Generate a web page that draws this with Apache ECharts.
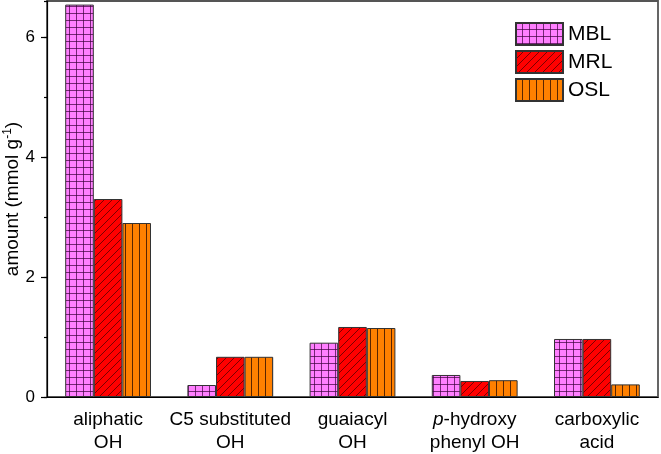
<!DOCTYPE html>
<html>
<head>
<meta charset="utf-8">
<script src="https://cdn.jsdelivr.net/npm/echarts@6/dist/echarts.min.js"></script>
<style>
html,body{margin:0;padding:0;background:#fff;}
#chart{width:661px;height:454px;}
</style>
</head>
<body>
<div id="chart"></div>
<script>
var categories = ['aliphatic\nOH', 'C5 substituted\nOH', 'guaiacyl\nOH', 'p-hydroxy\nphenyl OH', 'carboxylic\nacid'];
var seriesNames = ['MBL', 'MRL', 'OSL'];
var mblValues = [6.54, 0.20, 0.905, 0.367, 0.967];
var mrlValues = [3.30, 0.67, 1.167, 0.267, 0.967];
var oslValues = [2.90, 0.67, 1.15, 0.28, 0.21];
var yTicks = [0, 2, 4, 6];

function makeTile(w, h, bg, draw) {
  var c = document.createElement('canvas');
  c.width = w; c.height = h;
  var ctx = c.getContext('2d');
  ctx.fillStyle = bg;
  ctx.fillRect(0, 0, w, h);
  draw(ctx, w, h);
  return c;
}
var gridTile = makeTile(7, 7, '#ff7fff', function (ctx, w, h) {
  ctx.fillStyle = 'rgba(60,0,60,0.7)';
  ctx.fillRect(w - 1, 0, 1, h);
  ctx.fillRect(0, h - 1, w, 1);
});
var diagTile = makeTile(8, 8, '#ff0000', function (ctx, w, h) {
  ctx.strokeStyle = 'rgba(60,0,0,0.85)';
  ctx.lineWidth = 0.8;
  ctx.beginPath();
  ctx.moveTo(-1, h + 1); ctx.lineTo(w + 1, -1);
  ctx.moveTo(-1, 1); ctx.lineTo(1, -1);
  ctx.moveTo(w - 1, h + 1); ctx.lineTo(w + 1, h - 1);
  ctx.stroke();
});
var vertTile = makeTile(7, 7, '#ff8000', function (ctx, w, h) {
  ctx.fillStyle = 'rgba(60,20,0,0.85)';
  ctx.fillRect(w - 1, 0, 1, h);
});
var patterns = [gridTile, diagTile, vertTile];
var allValues = [mblValues, mrlValues, oslValues];
var FONT = 'Liberation Sans, Arial, sans-serif';

var chart = echarts.init(document.getElementById('chart'), null, {renderer: 'canvas'});
var option = {
  animation: false,
  textStyle: {fontFamily: FONT, color: '#000'},
  grid: {left: 47, right: 3, top: 1, bottom: 57, containLabel: false, outerBoundsMode: 'none',
    show: true, borderColor: '#555', borderWidth: 1.8},
  legend: {
    data: seriesNames,
    orient: 'vertical',
    left: 515,
    top: 22,
    padding: 0,
    itemWidth: 47,
    itemHeight: 22,
    itemGap: 4,
    textStyle: {fontSize: 21, color: '#000', fontFamily: FONT},
    icon: 'rect'
  },
  xAxis: {
    type: 'category',
    data: categories,
    axisLine: {lineStyle: {color: '#000', width: 1.2}},
    axisTick: {alignWithLabel: true, length: 6, lineStyle: {color: '#000', width: 1.2}},
    axisLabel: {
      interval: 0,
      color: '#000', fontSize: 19, lineHeight: 23, margin: 11,
      fontFamily: FONT,
      formatter: function (v) {
        if (v.indexOf('p-hydroxy') === 0) { return '{i|p}{n|-hydroxy}\n{n|phenyl OH}'; }
        return v;
      },
      rich: {
        i: {fontStyle: 'italic', fontSize: 19, color: '#000', lineHeight: 23, fontFamily: FONT},
        n: {fontSize: 19, color: '#000', lineHeight: 23, fontFamily: FONT}
      }
    }
  },
  yAxis: [{
    type: 'value',
    min: 0, max: 6.6, interval: 2,
    name: 'amount (mmol g{s|-1})',
    nameLocation: 'middle',
    nameGap: 24,
    nameMoveOverlap: false,
    nameRotate: 90,
    nameTextStyle: {fontSize: 19, color: '#000', fontFamily: FONT,
      rich: {s: {fontSize: 12, verticalAlign: 'top', padding: [0, 0, 9, 0], fontFamily: FONT}}},
    axisLine: {show: true, lineStyle: {color: '#000', width: 1.2}},
    axisTick: {show: true, length: 6, lineStyle: {color: '#000', width: 1.2}},
    axisLabel: {color: '#000', fontSize: 17, margin: 12, showMaxLabel: false,
      formatter: function (v) { return yTicks.indexOf(v) >= 0 ? String(v) : ''; }},
    splitLine: {show: false}
  }, {
    type: 'value',
    position: 'left',
    min: 0, max: 6.6, interval: 1,
    axisLine: {show: false},
    axisTick: {show: true, length: 3, lineStyle: {color: '#000', width: 1.2}},
    axisLabel: {show: false},
    splitLine: {show: false}
  }],
  series: seriesNames.map(function (n, i) {
    return {
      name: n,
      type: 'bar',
      yAxisIndex: 0,
      data: allValues[i],
      barWidth: 28.6,
      barGap: '0%',
      itemStyle: {color: {image: patterns[i], repeat: 'repeat'}, borderColor: '#333', borderWidth: 1}
    };
  })
};
chart.setOption(option);
</script>
</body>
</html>
